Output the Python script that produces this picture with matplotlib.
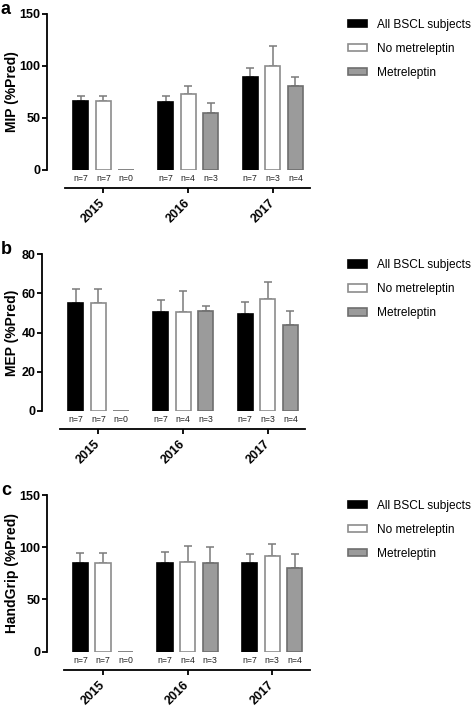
import numpy as np
import matplotlib
matplotlib.use("Agg")
import matplotlib.pyplot as plt

plt.rcParams['font.family'] = ['Liberation Sans', 'DejaVu Sans']

years = ['2015', '2016', '2017']
groups = ['All BSCL subjects', 'No metreleptin', 'Metreleptin']
n_counts = [[7, 7, 7], [7, 4, 3], [0, 3, 4]]

# mean values per group (rows) and year (columns)
mip_mean = [[66, 65, 89], [66, 73, 100], [0, 55, 81]]
mip_err = [[5, 6, 9.5], [5, 8, 19], [0, 9, 8]]
mep_mean = [[55, 50.6, 49.6], [55, 50.5, 57], [0, 51, 44]]
mep_err = [[7, 6, 6], [7, 10.5, 9], [0, 2.7, 7]]
hg_mean = [[85, 85, 85], [85, 86, 92], [0, 85, 80]]
hg_err = [[9.5, 10, 9], [9.5, 15, 11], [0, 15, 14]]

panels = [
    ('a', 'MIP (%Pred)', mip_mean, mip_err, 150, 50),
    ('b', 'MEP (%Pred)', mep_mean, mep_err, 80, 20),
    ('c', 'HandGrip (%Pred)', hg_mean, hg_err, 150, 50),
]

face = ['black', 'white', '#9b9b9b']
edge = ['black', '#8c8c8c', '#6e6e6e']

W, H = 474, 706
fig = plt.figure(figsize=(W / 100, H / 100), dpi=100)

# pixel layout: (left spine x, zero line y, top y)
layout = [(47, 170, 14), (42, 410.7, 254.3), (46.5, 651.7, 495)]
axw = 271

gap = 3.75
xpos = np.arange(len(years)) * gap

for (letter, ylab, means, errs, ymax, step), (lx, y0, yt) in zip(panels, layout):
    ax = fig.add_axes([lx / W, 1 - y0 / H, axw / W, (y0 - yt) / H])
    for i in range(3):
        x = xpos + i
        m = np.array(means[i], dtype=float)
        e = np.array(errs[i], dtype=float)
        ax.bar(x, m, width=0.67, color=face[i], edgecolor=edge[i],
               linewidth=1.2, label=groups[i], zorder=2)
        ok = m > 0
        ax.errorbar(x[ok], m[ok], yerr=[np.zeros(ok.sum()), e[ok]],
                    fmt='none', ecolor='#7a7a7a', elinewidth=1.1,
                    capsize=2.6, capthick=1.1, zorder=1)
        for xi, n in zip(x, n_counts[i]):
            ax.annotate(f'n={n}', xy=(xi, 0), xytext=(0, -6.3),
                        textcoords='offset points', ha='center', va='center',
                        fontsize=6.3, color='#222222')

    ax.set_xlim(-1.5, 10.5)
    ax.set_ylim(0, ymax)
    ax.set_yticks(np.arange(0, ymax + 1, step))
    ax.spines['top'].set_visible(False)
    ax.spines['right'].set_visible(False)
    ax.spines['left'].set_linewidth(1.3)
    ax.spines['bottom'].set_linewidth(1.3)
    ax.spines['left'].set_bounds(0, ymax)
    ax.spines['bottom'].set_position(('outward', 13))
    ax.spines['bottom'].set_bounds(-0.72, 10.15)
    ax.set_xticks(xpos + 1)
    ax.set_xticklabels(years, rotation=45, ha='right', va='center',
                       rotation_mode='anchor', fontsize=9, fontweight='bold')
    ax.tick_params(axis='x', length=3.5, width=1.3, pad=6)
    ax.tick_params(axis='y', length=3.3, width=1.3, labelsize=9, pad=1.2)
    for t in ax.get_yticklabels():
        t.set_fontweight('bold')
    ax.set_ylabel(ylab, fontsize=10, fontweight='bold', va='center')
    ax.yaxis.set_label_coords(-(lx - 12.5) / axw, 0.5)
    ax.patch.set_visible(False)

    fig.text(0.002, 1 - (yt - 13) / H, letter, fontsize=13, fontweight='bold',
             ha='left', va='top')

    ax.legend(loc='upper left', bbox_to_anchor=(348 / W, 1 - (yt + 5) / H),
              bbox_transform=fig.transFigure, frameon=False, fontsize=8.6,
              handlelength=1.6, handleheight=0.55, handletextpad=0.8,
              labelspacing=1.0, borderpad=0, borderaxespad=0)

fig.savefig('out.png', dpi=100)
